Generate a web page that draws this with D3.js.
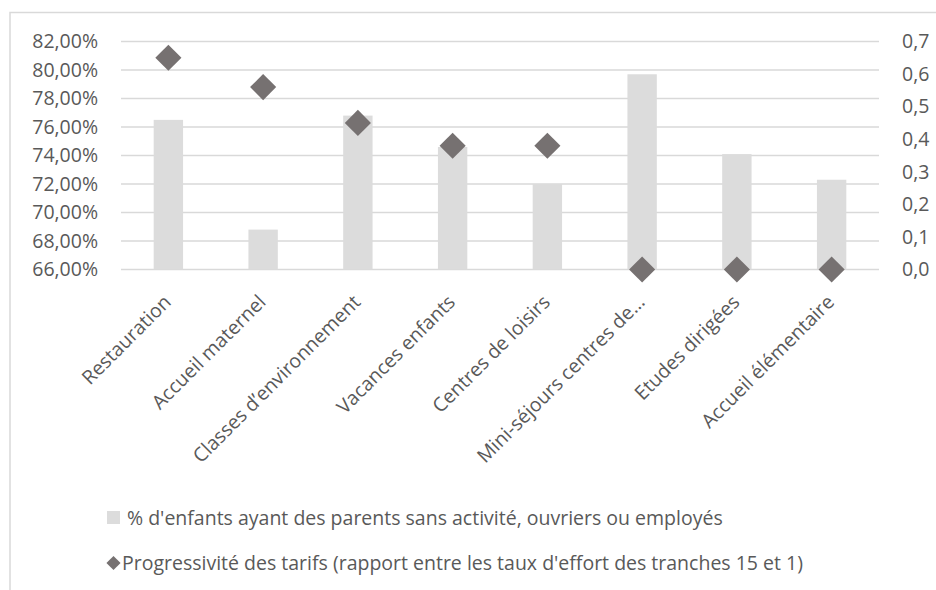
<!DOCTYPE html>
<html><head><meta charset="utf-8">
<script src="https://cdn.jsdelivr.net/npm/d3@7"></script>
<style>body{margin:0;background:#fff}svg{display:block}text{font-family:"Open Sans",sans-serif;fill:#595959}</style>
</head><body><svg id="c" width="936" height="590"></svg>
<script>
const categories = ["Restauration","Accueil maternel","Classes d’environnement","Vacances enfants","Centres de loisirs","Mini-séjours centres de…","Etudes dirigées","Accueil élémentaire"];
const pctValues = [0.765,0.688,0.768,0.746,0.720,0.797,0.741,0.723];
const progValues = [0.65,0.56,0.45,0.38,0.38,0,0,0];
const leftTicks = [0.66,0.68,0.70,0.72,0.74,0.76,0.78,0.80,0.82];
const rightTicks = [0,0.1,0.2,0.3,0.4,0.5,0.6,0.7];
const legendLabels = ["% d'enfants ayant des parents sans activité, ouvriers ou employés","Progressivité des tarifs (rapport entre les taux d'effort des tranches 15 et 1)"];

const svg = d3.select("#c");
const FS = 19.5;
const L = 121, R = 879, T = 41.5, B = 269.5;
const x = d3.scaleBand().domain(categories).range([L,R]).paddingInner(0.69).paddingOuter(0.345);
const yL = d3.scaleLinear().domain([0.66,0.82]).range([B,T]);
const yR = d3.scaleLinear().domain([0,0.7]).range([B,T]);
const fmtL = v => d3.format(".2f")(v*100).replace(".",",")+"%";
const fmtR = v => d3.format(".1f")(v).replace(".",",");

svg.append("rect").attr("x",10).attr("y",12.5).attr("width",940).attr("height",600)
  .attr("fill","none").attr("stroke","#d9d9d9").attr("stroke-width",1.5);

svg.append("g").selectAll("line").data(leftTicks).join("line")
  .attr("x1",L).attr("x2",R).attr("y1",d=>yL(d)).attr("y2",d=>yL(d))
  .attr("stroke","#d9d9d9").attr("stroke-width",1.5);

const gl = svg.append("g").attr("transform",`translate(${L},0)`)
  .call(d3.axisLeft(yL).tickValues(leftTicks).tickFormat(fmtL).tickSize(0).tickPadding(23));
gl.select(".domain").remove();
gl.selectAll("text").style("font-size",FS+"px").attr("fill","#595959").style("font-family",'"Open Sans",sans-serif');

const gr = svg.append("g").attr("transform",`translate(${R},0)`)
  .call(d3.axisRight(yR).tickValues(rightTicks).tickFormat(fmtR).tickSize(0).tickPadding(23));
gr.select(".domain").remove();
gr.selectAll("text").style("font-size",FS+"px").attr("fill","#595959").style("font-family",'"Open Sans",sans-serif');

svg.append("g").selectAll("rect").data(categories).join("rect")
  .attr("x",d=>x(d)).attr("width",x.bandwidth())
  .attr("y",(d,i)=>yL(pctValues[i])).attr("height",(d,i)=>B-yL(pctValues[i]))
  .attr("fill","#dcdcdc");

const ds = 18.5;
svg.append("g").selectAll("rect").data(categories).join("rect")
  .attr("x",-ds/2).attr("y",-ds/2).attr("width",ds).attr("height",ds)
  .attr("transform",(d,i)=>`translate(${x(d)+x.bandwidth()/2},${yR(progValues[i])}) rotate(45)`)
  .attr("fill","#767171");

svg.append("g").selectAll("text").data(categories).join("text")
  .attr("transform",d=>`translate(${x(d)+x.bandwidth()/2-1},${B+29}) rotate(-45)`)
  .attr("text-anchor","end").attr("dy","0.35em").style("font-size",FS+"px").text(d=>d);

const lg = svg.append("g");
lg.append("rect").attr("x",107).attr("y",511).attr("width",13).attr("height",13).attr("fill","#dcdcdc");
lg.append("rect").attr("x",-5).attr("y",-5).attr("width",10).attr("height",10)
  .attr("transform","translate(113.5,563) rotate(45)").attr("fill","#767171");
lg.selectAll("text").data(legendLabels).join("text")
  .attr("x",(d,i)=>i===0?127:122).attr("y",(d,i)=>518+i*45).attr("dy","0.35em").style("font-size",FS+"px").text(d=>d);
</script></body></html>
